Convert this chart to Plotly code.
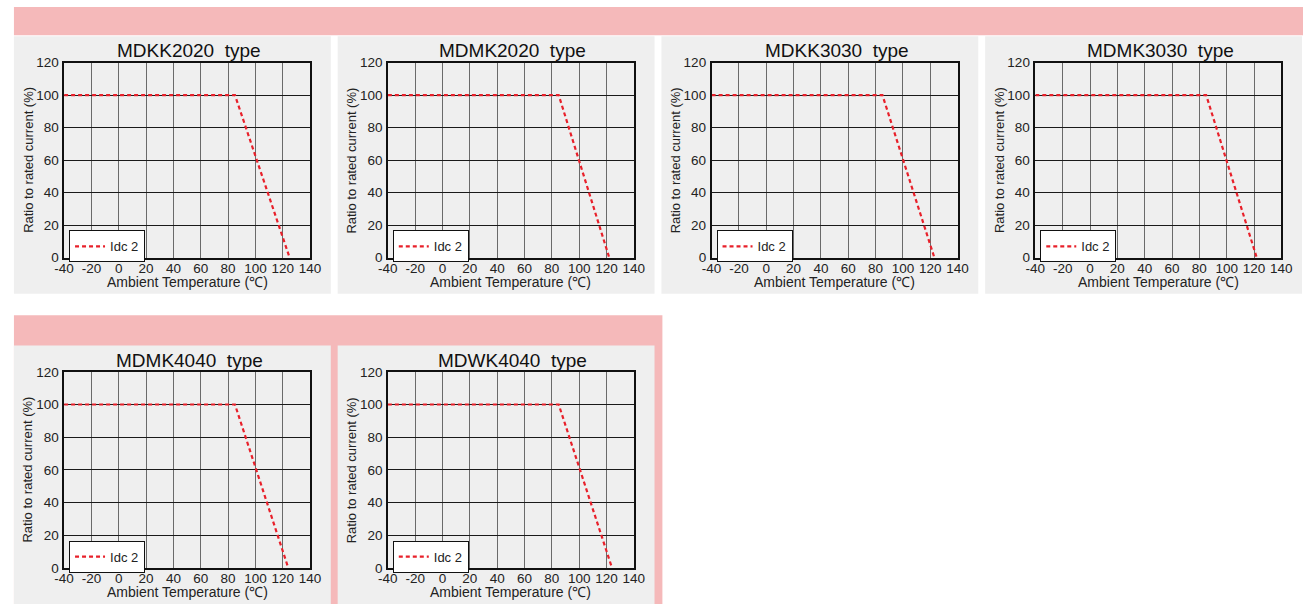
import plotly.graph_objects as go

W, H = 1314, 612

titles = ["MDKK2020\u00a0 type", "MDMK2020\u00a0 type", "MDKK3030\u00a0 type",
          "MDMK3030\u00a0 type", "MDMK4040\u00a0 type", "MDWK4040\u00a0 type"]
# derating curve: temperature (°C) vs ratio to rated current (%)
temps = [
    [-40, 85, 125],
    [-40, 85, 122],
    [-40, 85, 123],
    [-40, 85, 122],
    [-40, 85, 124],
    [-40, 85, 124],
]
ratios = [
    [100, 100, 0],
    [100, 100, 0],
    [100, 100, 0],
    [100, 100, 0],
    [100, 100, 0],
    [100, 100, 0],
]
series_name = "Idc 2"
x_ticks = [-40, -20, 0, 20, 40, 60, 80, 100, 120, 140]
y_ticks = [0, 20, 40, 60, 80, 100, 120]

PINK = "#f5b9ba"
GRAY = "#efefef"
FONT = "Liberation Sans, Arial, sans-serif"

# panel positions (pixel): left x, top y of plot area
panel_left = [4, 333, 662, 991, 4, 333]
plot_top = [57, 57, 57, 57, 374, 374]
plot_h = [200, 200, 200, 200, 201, 201]


def px(x):
    return x / W


def py(y):
    return 1 - y / H


fig = go.Figure()
shapes = []
annotations = []

# background bands
shapes.append(dict(type="rect", xref="paper", yref="paper", x0=px(4), x1=px(1314),
                   y0=py(29), y1=py(0), fillcolor=PINK, line_width=0, layer="below"))
shapes.append(dict(type="rect", xref="paper", yref="paper", x0=px(4), x1=px(663),
                   y0=py(612), y1=py(316), fillcolor=PINK, line_width=0, layer="below"))
for i in range(6):
    L = panel_left[i]
    if i < 4:
        t, b = 30, 294
    else:
        t, b = 347, 612
    shapes.append(dict(type="rect", xref="paper", yref="paper", x0=px(L), x1=px(L + 322),
                       y0=py(b), y1=py(t), fillcolor=GRAY, line_width=0, layer="below"))

layout = dict(width=W, height=H, margin=dict(l=0, r=0, t=0, b=0),
              paper_bgcolor="white", plot_bgcolor="white", showlegend=True,
              font=dict(family=FONT, color="#222"))

for i in range(6):
    n = "" if i == 0 else str(i + 1)
    L = panel_left[i]
    x0, x1 = L + 51, L + 301
    top = plot_top[i]
    bot = top + plot_h[i]
    legname = "legend" + n
    fig.add_trace(go.Scatter(
        x=temps[i], y=ratios[i], mode="lines", name=series_name,
        line=dict(color="#e8202a", width=2.2, dash="4px,3px"),
        xaxis="x" + n, yaxis="y" + n, legend=legname, hoverinfo="skip"))
    layout["xaxis" + n] = dict(
        domain=[px(x0), px(x1)], anchor="y" + n, range=[-40, 140],
        tickvals=x_ticks, ticktext=[str(v) for v in x_ticks],
        showgrid=True, gridcolor="#6a6a6a", gridwidth=1.3, zeroline=False,
        showline=True, linecolor="#111", linewidth=1.5, mirror=True,
        ticks="", ticklabelstandoff=-3,
        tickfont=dict(size=13.5, color="#222"), fixedrange=True)
    layout["yaxis" + n] = dict(
        domain=[py(bot), py(top)], anchor="x" + n, range=[0, 120],
        tickvals=y_ticks, ticktext=[str(v) for v in y_ticks],
        showgrid=True, gridcolor="#1a1a1a", gridwidth=1.2, zeroline=False,
        showline=True, linecolor="#111", linewidth=1.5, mirror=True,
        ticks="", ticklabelstandoff=1,
        tickfont=dict(size=13.5, color="#222"), fixedrange=True)
    layout[legname] = dict(
        x=px(L + 56), y=py(bot - 28), xanchor="left", yanchor="top",
        bgcolor="white", bordercolor="#111", borderwidth=1,
        font=dict(size=13, color="#222"), itemwidth=30,
        tracegroupgap=0)
    cx = (x0 + x1) / 2
    annotations.append(dict(text=titles[i], xref="paper", yref="paper",
                            x=px(cx + 2), y=py(top - 12), xanchor="center", yanchor="middle",
                            showarrow=False, font=dict(size=19, color="#111", family=FONT)))
    annotations.append(dict(text="Ratio to rated current (%)", xref="paper", yref="paper",
                            x=px(L + 14), y=py((top + bot) / 2), xanchor="center", yanchor="middle",
                            textangle=-90, showarrow=False,
                            font=dict(size=13, color="#222", family=FONT)))
    annotations.append(dict(text="Ambient Temperature (℃)", xref="paper", yref="paper",
                            x=px(cx), y=py(bot + 25), xanchor="center", yanchor="middle",
                            showarrow=False, font=dict(size=14, color="#222", family=FONT)))

layout["shapes"] = shapes
layout["annotations"] = annotations
fig.update_layout(**layout)

post = (
    "document.documentElement.style.margin='0';"
    "document.documentElement.style.padding='0';"
    "document.body.style.margin='0';"
    "document.body.style.padding='0';"
    "document.body.style.overflow='hidden';"
)
fig.write_html("out.html", config={"displayModeBar": False}, post_script=post)
